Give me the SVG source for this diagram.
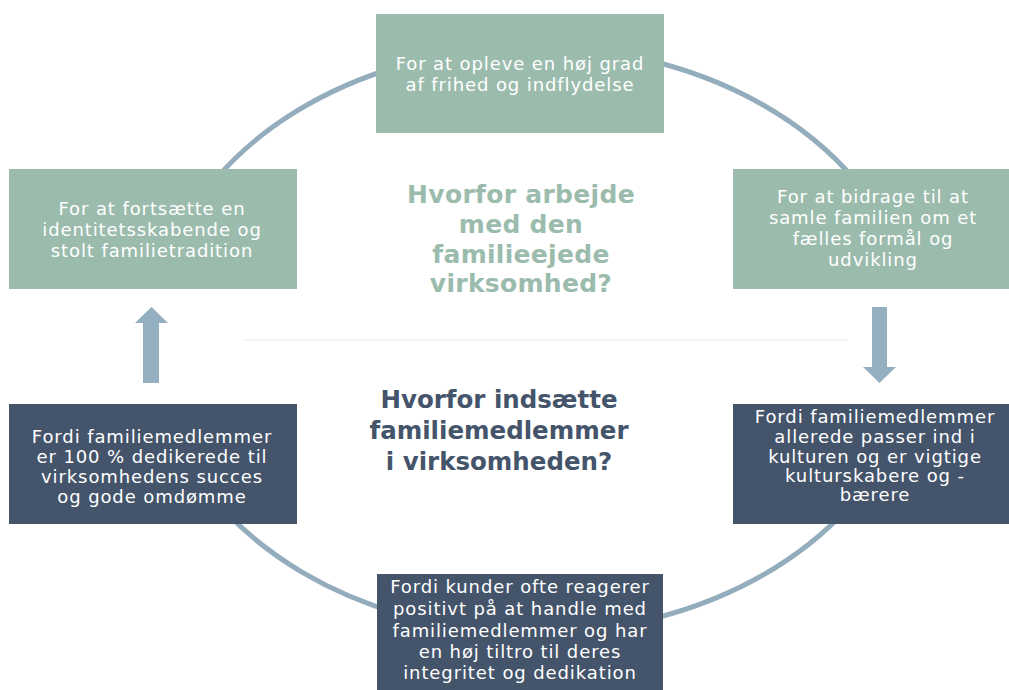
<svg xmlns="http://www.w3.org/2000/svg" width="1009" height="690" viewBox="0 0 1009 690">
  <style>
    .ring { fill: none; stroke: #93adbd; stroke-width: 5; }
    .green { fill: #9bbcad; }
    .navy { fill: #44546a; }
    .arrow { fill: #94afbf; }
    .lbl { font-family: "DejaVu Sans", Verdana, sans-serif; font-size: 18px; letter-spacing: 0.9px; fill: #ffffff; text-anchor: middle; }
    .title { font-family: "DejaVu Sans", Verdana, sans-serif; font-size: 25px; font-weight: bold; letter-spacing: 0.3px; text-anchor: middle; }
    .t-green { fill: #9bbcad; }
    .t-navy { fill: #44546a; font-size: 24.5px; letter-spacing: 0; }
  </style>
  <rect width="1009" height="690" fill="#ffffff"/>

  <!-- ring segments and direction arrows -->
  <g id="connectors">
    <path class="ring" d="M215,180 A382,293 0 0 1 400,66"/>
    <path class="ring" d="M640,58.3 A382,293 0 0 1 855,180"/>
    <path class="ring" d="M846,510 A382,293 0 0 1 640,621.7"/>
    <path class="ring" d="M400,614 A382,293 0 0 1 224,510"/>
    <line x1="243" y1="340" x2="847" y2="340" stroke="#f3eee6" stroke-width="1.5"/>
    <polygon class="arrow" points="143,383 159,383 159,323 168,323 151.5,307 135,323 143,323"/>
    <polygon class="arrow" points="872,307 887,307 887,367 896,367 879.5,383 863,367 872,367"/>
  </g>

  <g id="node-top">
    <rect class="green" x="376" y="14" width="288" height="119"/>
    <text class="lbl" x="520" y="70">For at opleve en høj grad</text>
    <text class="lbl" x="520" y="91">af frihed og indflydelse</text>
  </g>

  <g id="node-left">
    <rect class="green" x="9" y="169" width="288" height="120"/>
    <text class="lbl" x="152" y="215">For at fortsætte en</text>
    <text class="lbl" x="152" y="236">identitetsskabende og</text>
    <text class="lbl" x="152" y="257">stolt familietradition</text>
  </g>

  <g id="node-right">
    <rect class="green" x="733" y="169" width="280" height="120"/>
    <text class="lbl" x="873" y="203">For at bidrage til at</text>
    <text class="lbl" x="873" y="224">samle familien om et</text>
    <text class="lbl" x="873" y="245">fælles formål og</text>
    <text class="lbl" x="873" y="266">udvikling</text>
  </g>

  <g id="title-top">
    <text class="title t-green" x="521" y="203">Hvorfor arbejde</text>
    <text class="title t-green" x="521" y="233">med den</text>
    <text class="title t-green" x="521" y="263">familieejede</text>
    <text class="title t-green" x="521" y="292">virksomhed?</text>
  </g>

  <g id="title-bottom">
    <text class="title t-navy" x="499" y="408">Hvorfor indsætte</text>
    <text class="title t-navy" x="499" y="439">familiemedlemmer</text>
    <text class="title t-navy" x="499" y="470">i virksomheden?</text>
  </g>

  <g id="node-left-dark">
    <rect class="navy" x="9" y="404" width="288" height="120"/>
    <text class="lbl" x="152" y="443">Fordi familiemedlemmer</text>
    <text class="lbl" x="152" y="463">er 100 % dedikerede til</text>
    <text class="lbl" x="152" y="483">virksomhedens succes</text>
    <text class="lbl" x="152" y="503">og gode omdømme</text>
  </g>

  <g id="node-right-dark">
    <rect class="navy" x="733" y="404" width="280" height="120"/>
    <text class="lbl" x="875" y="423">Fordi familiemedlemmer</text>
    <text class="lbl" x="875" y="443">allerede passer ind i</text>
    <text class="lbl" x="875" y="463">kulturen og er vigtige</text>
    <text class="lbl" x="875" y="482">kulturskabere og -</text>
    <text class="lbl" x="875" y="501">bærere</text>
  </g>

  <g id="node-bottom">
    <rect class="navy" x="377" y="574" width="286" height="120"/>
    <text class="lbl" x="520" y="593">Fordi kunder ofte reagerer</text>
    <text class="lbl" x="520" y="615">positivt på at handle med</text>
    <text class="lbl" x="520" y="637">familiemedlemmer og har</text>
    <text class="lbl" x="520" y="658">en høj tiltro til deres</text>
    <text class="lbl" x="520" y="679">integritet og dedikation</text>
  </g>
</svg>
